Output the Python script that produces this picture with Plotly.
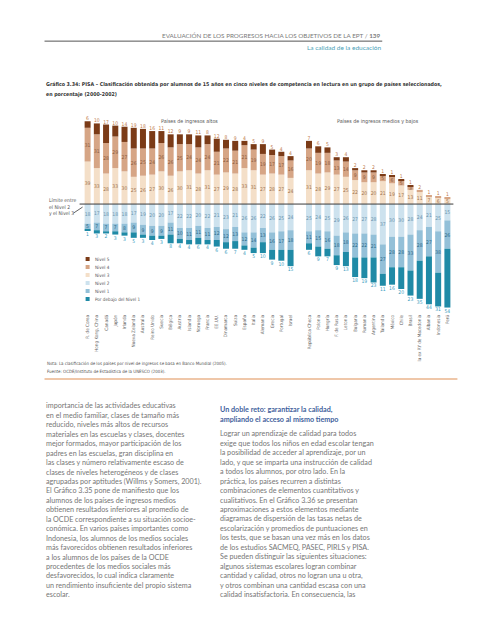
import plotly.graph_objects as go

# ---------------- data ----------------
hi_countries = ["R. de Corea", "Hong Kong, China", "Canadá", "Japón", "Irlanda", "Nueva Zelandia",
                "Australia", "Reino Unido", "Suecia", "Bélgica", "Austria", "Islandia", "Noruega",
                "Francia", "EE.UU.", "Dinamarca", "Suiza", "España", "Italia", "Alemania", "Grecia",
                "Portugal", "Israel"]
hi_n5 = [6, 10, 17, 10, 14, 19, 18, 16, 11, 12, 9, 9, 11, 8, 12, 8, 9, 4, 5, 9, 5, 4, 4]
hi_n4 = [31, 31, 28, 29, 27, 26, 25, 24, 26, 26, 25, 24, 24, 24, 21, 22, 21, 21, 19, 19, 17, 17, 16]
hi_n3 = [39, 33, 28, 33, 30, 25, 26, 27, 30, 26, 30, 31, 28, 31, 27, 29, 28, 33, 31, 27, 28, 27, 24]
hi_n2 = [18, 17, 18, 18, 18, 17, 19, 20, 20, 17, 22, 22, 20, 22, 21, 23, 21, 26, 26, 22, 26, 25, 24]
hi_n1 = [5, 7, 7, 7, 8, 9, 9, 9, 9, 11, 10, 11, 11, 11, 12, 12, 13, 12, 14, 13, 16, 17, 18]
hi_b1 = [1, 3, 2, 3, 3, 5, 3, 4, 3, 8, 4, 4, 6, 4, 6, 6, 7, 4, 5, 10, 9, 10, 15]

mid_countries = ["República Checa", "Polonia", "Hungría", "F. de Rusia", "Letonia", "Bulgaria",
                 "Rumania", "Argentina", "Tailandia", "México", "Chile", "Brasil",
                 "la ex RY de Macedonia", "Albania", "Indonesia", "Perú"]
mid_n5 = [7, 6, 5, 3, 4, 2, 2, 2, 1, 1, 1, 1, 0, 0, 0, 0]
mid_n4 = [20, 19, 18, 13, 14, 9, 9, 9, 5, 6, 5, 3, 2, 1, 1, 1]
mid_n3 = [31, 28, 29, 27, 25, 22, 20, 20, 21, 19, 17, 13, 11, 7, 6, 5]
mid_n2 = [25, 24, 25, 29, 26, 27, 27, 28, 37, 30, 30, 28, 24, 21, 25, 15]
mid_n1 = [11, 15, 16, 18, 18, 22, 22, 21, 27, 28, 28, 33, 28, 27, 38, 26]
mid_b1 = [6, 9, 7, 9, 13, 18, 19, 23, 11, 16, 20, 23, 35, 44, 31, 54]

group_titles = ["Países de ingresos altos", "Países de ingresos medios y bajos"]
level_names = ["Nivel 5", "Nivel 4", "Nivel 3", "Nivel 2", "Nivel 1", "Por debajo del Nivel 1"]

# ---------------- styles ----------------
W, H = 492, 640
ML, MR, MT, MB = 83.4, 40.4, 105.9, 327
PW, PH = W - ML - MR, H - MT - MB
PLOT_BOTTOM = H - MB

def px(x):
    return (x - ML) / PW

def py(y):
    return (PLOT_BOTTOM - y) / PH

NARROW = "Liberation Sans Narrow, Arial Narrow, DejaVu Sans Condensed, sans-serif"
COND = "DejaVu Sans Condensed, Liberation Sans Narrow, sans-serif"
BODY = "Lato, Open Sans, sans-serif"
level_colors = ["#7b3b17", "#d6a585", "#f4dfc8", "#cde2ee", "#93c0d8", "#1f8aa6"]
text_colors = ["#c07a4a", "#8c5a3c", "#a0734f", "#6a92ad", "#2c6888", "#3a9cc0"]

# x positions: one empty slot between the groups
hi_x = list(range(len(hi_countries)))
mid_x = [len(hi_countries) + 1 + i for i in range(len(mid_countries))]
xs = hi_x + mid_x
names = hi_countries + mid_countries
n5 = hi_n5 + mid_n5
n4 = hi_n4 + mid_n4
n3 = hi_n3 + mid_n3
n2 = hi_n2 + mid_n2
n1 = hi_n1 + mid_n1
b1 = hi_b1 + mid_b1

fig = go.Figure()

def add(vals, idx, sign, positions):
    yv = [sign * v if v > 0 else None for v in vals]
    txt = [str(v) if v > 0 else "" for v in vals]
    fig.add_trace(go.Bar(
        x=xs, y=yv, text=txt, name=level_names[idx],
        marker=dict(color=level_colors[idx], line=dict(width=0)),
        textposition=positions, textangle=0, constraintext="none",
        insidetextanchor="middle",
        textfont=dict(family=NARROW, size=5, color=text_colors[idx]),
        outsidetextfont=dict(family=NARROW, size=5, color=text_colors[idx] if idx not in (0, 1) else "#c07a4a"),
        cliponaxis=False, showlegend=False, hoverinfo="skip"))

# positive side (stack order from 0 upward)
add(n3, 2, 1, "inside")
add(n4, 1, 1, ["outside" if v5 == 0 else "inside" for v5 in n5])
add(n5, 0, 1, "outside")
# negative side (stack order from 0 downward)
add(n2, 3, -1, "inside")
add(n1, 4, -1, "inside")
add(b1, 5, -1, "outside")

fig.update_layout(
    width=W, height=H, barmode="relative", bargap=0.35,
    margin=dict(l=ML, r=MR, t=MT, b=MB, pad=0),
    paper_bgcolor="white", plot_bgcolor="white",
    showlegend=False,
    xaxis=dict(range=[-0.5, len(xs) + 0.5], tickmode="array", tickvals=xs, ticktext=names,
               tickangle=-90, tickfont=dict(family=NARROW, size=4.6, color="#666"),
               showgrid=False, zeroline=False, showline=False, ticks="", ticklen=0),
    yaxis=dict(range=[-100, 90], visible=False, showgrid=False, zeroline=False),
)

shapes = []
anns = []

# level 2/3 boundary line
shapes.append(dict(type="line", xref="paper", yref="y", x0=px(80), x1=px(453), y0=0, y1=0,
                   line=dict(color="#3a3a3a", width=1)))
# pointer to the boundary
shapes.append(dict(type="line", xref="paper", yref="paper", x0=px(74), y0=py(213), x1=px(83), y1=py(207),
                   line=dict(color="#3a3a3a", width=0.8)))
anns.append(dict(text="Límite entre<br>el Nivel 2<br>y el Nivel 3", xref="paper", yref="paper",
                 x=px(48), y=py(196), xanchor="left", yanchor="top", align="left", showarrow=False,
                 borderpad=0, font=dict(family=NARROW, size=5, color="#555")))

# group titles
anns.append(dict(text=group_titles[0], xref="x", yref="paper", x=sum(hi_x) / len(hi_x), y=py(116),
                 showarrow=False, font=dict(family=NARROW, size=5.3, color="#555")))
anns.append(dict(text=group_titles[1], xref="x", yref="paper", x=sum(mid_x) / len(mid_x), y=py(116),
                 showarrow=False, font=dict(family=NARROW, size=5.3, color="#555")))

# manual legend
for i, nm in enumerate(level_names):
    yc = 259 + 8 * i
    shapes.append(dict(type="rect", xref="paper", yref="paper", x0=px(86), x1=px(90),
                       y0=py(yc + 2), y1=py(yc - 2), line=dict(width=0), fillcolor=level_colors[i]))
    anns.append(dict(text=nm, xref="paper", yref="paper", x=px(94), y=py(yc), xanchor="left",
                     yanchor="middle", showarrow=False, borderpad=0,
                     font=dict(family=NARROW, size=4.6, color="#555")))

# page header
anns.append(dict(text="EVALUACIÓN DE LOS PROGRESOS HACIA LOS OBJETIVOS DE LA EPT / <b>139</b>",
                 xref="paper", yref="paper", x=px(382), y=py(35), xanchor="right", yanchor="middle",
                 showarrow=False, borderpad=0, font=dict(family=BODY, size=6.3, color="#7a7a7a")))
shapes.append(dict(type="line", xref="paper", yref="paper", x0=px(45), x1=px(382), y0=py(41), y1=py(41),
                   line=dict(color="#555", width=1)))
anns.append(dict(text="La calidad de la educación", xref="paper", yref="paper", x=px(382), y=py(47.5),
                 xanchor="right", yanchor="middle", showarrow=False, borderpad=0,
                 font=dict(family=BODY, size=6.5, color="#4a9fb8")))

# chart title
anns.append(dict(text="<b>Gráfico 3.34: PISA – Clasificación obtenida por alumnos de 15 años en cinco niveles de competencia en lectura en un grupo de países seleccionados,</b>",
                 xref="paper", yref="paper", x=px(45), y=py(84), xanchor="left", yanchor="middle",
                 showarrow=False, borderpad=0, font=dict(family=COND, size=5.25, color="#333")))
anns.append(dict(text="<b>en porcentaje (2000-2002)</b>",
                 xref="paper", yref="paper", x=px(45), y=py(94), xanchor="left", yanchor="middle",
                 showarrow=False, borderpad=0, font=dict(family=COND, size=5.25, color="#333")))

# notes
anns.append(dict(text="Nota: La clasificación de los países por nivel de ingresos se basa en Banco Mundial (2005).",
                 xref="paper", yref="paper", x=px(46), y=py(364), xanchor="left", yanchor="middle",
                 showarrow=False, borderpad=0, font=dict(family=NARROW, size=4.4, color="#555")))
anns.append(dict(text="Fuente: OCDE/Instituto de Estadística de la UNESCO (2003).",
                 xref="paper", yref="paper", x=px(46), y=py(372), xanchor="left", yanchor="middle",
                 showarrow=False, borderpad=0, font=dict(family=NARROW, size=4.4, color="#555")))
shapes.append(dict(type="line", xref="paper", yref="paper", x0=px(45), x1=px(457), y0=py(379), y1=py(379),
                   line=dict(color="#eab58c", width=1.5)))

# body text
left_lines = [
    "importancia de las actividades educativas",
    "en el medio familiar, clases de tamaño más",
    "reducido, niveles más altos de recursos",
    "materiales en las escuelas y clases, docentes",
    "mejor formados, mayor participación de los",
    "padres en las escuelas, gran disciplina en",
    "las clases y número relativamente escaso de",
    "clases de niveles heterogéneos y de clases",
    "agrupadas por aptitudes (Willms y Somers, 2001).",
    "El Gráfico 3.35 pone de manifiesto que los",
    "alumnos de los países de ingresos medios",
    "obtienen resultados inferiores al promedio de",
    "la OCDE correspondiente a su situación socioe-",
    "conómica. En varios países importantes como",
    "Indonesia, los alumnos de los medios sociales",
    "más favorecidos obtienen resultados inferiores",
    "a los alumnos de los países de la OCDE",
    "procedentes de los medios sociales más",
    "desfavorecidos, lo cual indica claramente",
    "un rendimiento insuficiente del propio sistema",
    "escolar.",
]
right_head = ["Un doble reto: garantizar la calidad,", "ampliando el acceso al mismo tiempo"]
right_lines = [
    "Lograr un aprendizaje de calidad para todos",
    "exige que todos los niños en edad escolar tengan",
    "la posibilidad de acceder al aprendizaje, por un",
    "lado, y que se imparta una instrucción de calidad",
    "a todos los alumnos, por otro lado. En la",
    "práctica, los países recurren a distintas",
    "combinaciones de elementos cuantitativos y",
    "cualitativos. En el Gráfico 3.36 se presentan",
    "aproximaciones a estos elementos mediante",
    "diagramas de dispersión de las tasas netas de",
    "escolarización y promedios de puntuaciones en",
    "los tests, que se basan una vez más en los datos",
    "de los estudios SACMEQ, PASEC, PIRLS y PISA.",
    "Se pueden distinguir las siguientes situaciones:",
    "algunos sistemas escolares logran combinar",
    "cantidad y calidad, otros no logran una u otra,",
    "y otros combinan una cantidad escasa con una",
    "calidad insatisfactoria. En consecuencia, las",
]
LH = 9.45
for i, t in enumerate(left_lines):
    anns.append(dict(text=t, xref="paper", yref="paper", x=px(45.5), y=py(406 + LH * i),
                     xanchor="left", yanchor="middle", showarrow=False, borderpad=0,
                     font=dict(family=BODY, size=7.2, color="#767676")))
for i, t in enumerate(right_head):
    anns.append(dict(text="<b>" + t + "</b>", xref="paper", yref="paper", x=px(219.5), y=py(410 + 9.2 * i),
                     xanchor="left", yanchor="middle", showarrow=False, borderpad=0,
                     font=dict(family=BODY, size=7.2, color="#3f5f9c")))
for i, t in enumerate(right_lines):
    anns.append(dict(text=t, xref="paper", yref="paper", x=px(219.5), y=py(434 + LH * i),
                     xanchor="left", yanchor="middle", showarrow=False, borderpad=0,
                     font=dict(family=BODY, size=7.2, color="#767676")))

fig.update_layout(shapes=shapes, annotations=anns)

fig.write_html("out.html", include_plotlyjs=True, config={"displayModeBar": False},
               post_script="document.body.style.margin='0';document.body.style.overflow='hidden';")
